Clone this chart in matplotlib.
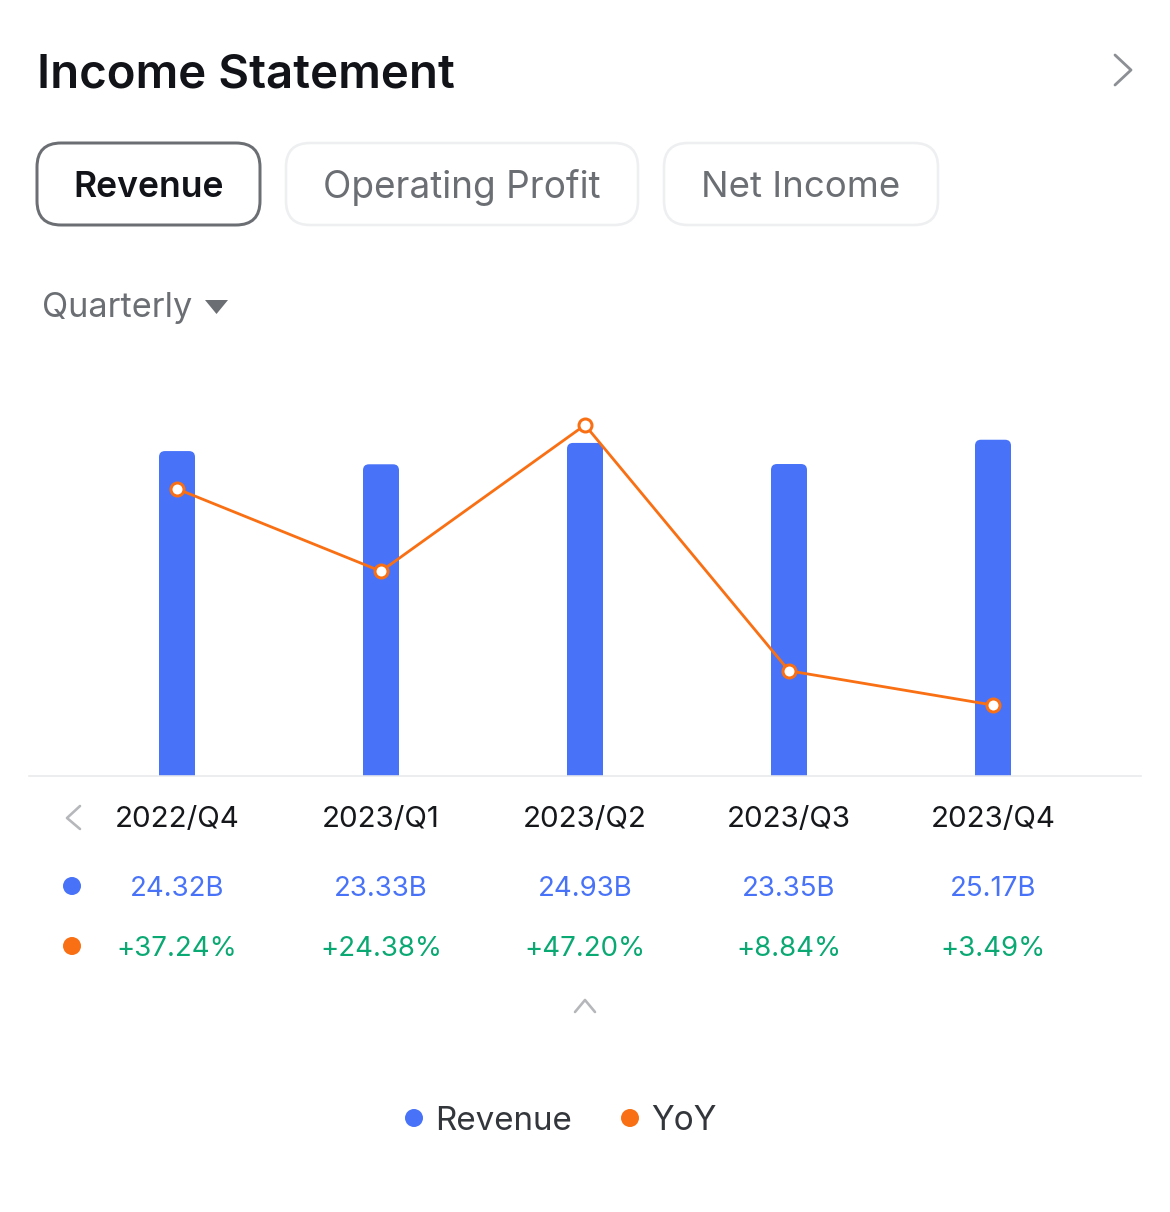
import matplotlib
matplotlib.use("Agg")
import matplotlib.pyplot as plt
from matplotlib.patches import FancyBboxPatch, Polygon, Circle

plt.rcParams["font.family"] = ["Inter", "DejaVu Sans"]

quarters = ["2022/Q4", "2023/Q1", "2023/Q2", "2023/Q3", "2023/Q4"]
revenue = [24.32, 23.33, 24.93, 23.35, 25.17]
yoy = [37.24, 24.38, 47.20, 8.84, 3.49]
revenue_labels = ["24.32B", "23.33B", "24.93B", "23.35B", "25.17B"]
yoy_labels = ["+37.24%", "+24.38%", "+47.20%", "+8.84%", "+3.49%"]
tabs = ["Revenue", "Operating Profit", "Net Income"]

BLUE = "#4873f8"
ORANGE = "#f97014"
GREEN = "#0aa873"
W, H = 1170, 1212

fig = plt.figure(figsize=(W / 100, H / 100), dpi=100, facecolor="white")

# page layer in pixels, y pointing down
page = fig.add_axes([0, 0, 1, 1])
page.set_xlim(0, W)
page.set_ylim(H, 0)
page.axis("off")


def fs(px):
    return px * 72 / 100


def line(xs, ys, color, lw=2.2):
    page.plot(xs, ys, color=color, lw=lw * 72 / 100, solid_capstyle="round",
              solid_joinstyle="round")


page.text(37, 70, "Income Statement", fontsize=fs(47.4), fontweight="semibold",
          color="#111318", va="center_baseline")
line([1115, 1131, 1115], [55, 70, 85], "#8c8f94", 2.8)

# tabs
tab_boxes = [(37, 143, 223, 82), (286, 143, 352, 82), (664, 143, 274, 82)]
tab_sizes = [35.6, 37, 36.6]
for i, (name, box) in enumerate(zip(tabs, tab_boxes)):
    x, y, w, h = box
    active = i == 0
    page.add_patch(FancyBboxPatch((x + 20, y + 20), w - 40, h - 40,
                                  boxstyle="round,pad=20,rounding_size=24",
                                  fc="white",
                                  ec="#6b6e73" if active else "#eeeff1",
                                  lw=(3 if active else 2.6) * 72 / 100))
    page.text(x + w / 2, y + h / 2, name, fontsize=fs(tab_sizes[i]),
              fontweight="semibold" if active else "normal",
              color="#111318" if active else "#6b6e73",
              ha="center", va="center_baseline")

page.text(42.5, 305, "Quarterly", fontsize=fs(34.3), color="#6b6e73",
          va="center_baseline")
page.add_patch(Polygon([(205, 300), (228, 300), (216.5, 314)], closed=True,
                       fc="#6b6e73", ec="none"))

# chart: 204 px between quarters, baseline at y=775
x0, dx = 177, 204
px_per_b = 13.34
left, right, top, base = 29, 1141, 380, 775.5
ax = fig.add_axes([left / W, 1 - base / H, (right - left) / W, (base - top) / H])
ax.patch.set_alpha(0)
ax.set_xlim((left - x0) / dx, (right - x0) / dx)
ax.set_ylim(0, (base - top) / px_per_b)
ax.set_xticks([])
ax.set_yticks([])
for s in ["top", "left", "right"]:
    ax.spines[s].set_visible(False)
ax.spines["bottom"].set_color("#e8e9eb")
ax.spines["bottom"].set_linewidth(1.6 * 72 / 100)

bar_w = 36 / dx
rad_x = 6 / dx
for i, v in enumerate(revenue):
    ax.add_patch(FancyBboxPatch((i - bar_w / 2 + rad_x, -2), bar_w - 2 * rad_x, v + 2 - rad_x * dx / px_per_b,
                                boxstyle="round,pad=%f,rounding_size=%f" % (rad_x, rad_x),
                                mutation_aspect=dx / px_per_b,
                                fc=BLUE, ec="none", zorder=2))

ax2 = ax.twinx()
ax2.patch.set_alpha(0)
ax2.set_ylim(-7.5, 54.23)
ax2.set_yticks([])
for s in ax2.spines.values():
    s.set_visible(False)
ax2.plot(range(len(yoy)), yoy, color=ORANGE, lw=2.8 * 72 / 100, zorder=3)
ax2.scatter(range(len(yoy)), yoy, s=(13 * 72 / 100) ** 2, c="white",
            edgecolors=ORANGE, linewidths=3 * 72 / 100, clip_on=False, zorder=4)

# table under the chart
line([80, 67, 80], [806, 818, 829], "#b5b7ba", 2.6)
for i in range(len(quarters)):
    cx = x0 + i * dx
    page.text(cx, 817, quarters[i], fontsize=fs(29.5), color="#15171a",
              ha="center", va="center_baseline")
    page.text(cx, 886, revenue_labels[i], fontsize=fs(27.6), color=BLUE,
              ha="center", va="center_baseline")
    page.text(cx, 946, yoy_labels[i], fontsize=fs(27.6), color=GREEN,
              ha="center", va="center_baseline")
page.add_patch(Circle((72, 886), 9, fc=BLUE, ec="none"))
page.add_patch(Circle((72, 946), 9, fc=ORANGE, ec="none"))
line([575, 585, 595], [1012, 1000, 1012], "#b5b7ba", 2.6)

# legend
page.add_patch(Circle((414, 1118), 9, fc=BLUE, ec="none"))
page.text(435.5, 1118, "Revenue", fontsize=fs(33.2), color="#33363b", va="center_baseline")
page.add_patch(Circle((630, 1118), 9, fc=ORANGE, ec="none"))
page.text(651, 1118, "YoY", fontsize=fs(33.5), color="#33363b", va="center_baseline")

fig.savefig("out.png", dpi=100)
